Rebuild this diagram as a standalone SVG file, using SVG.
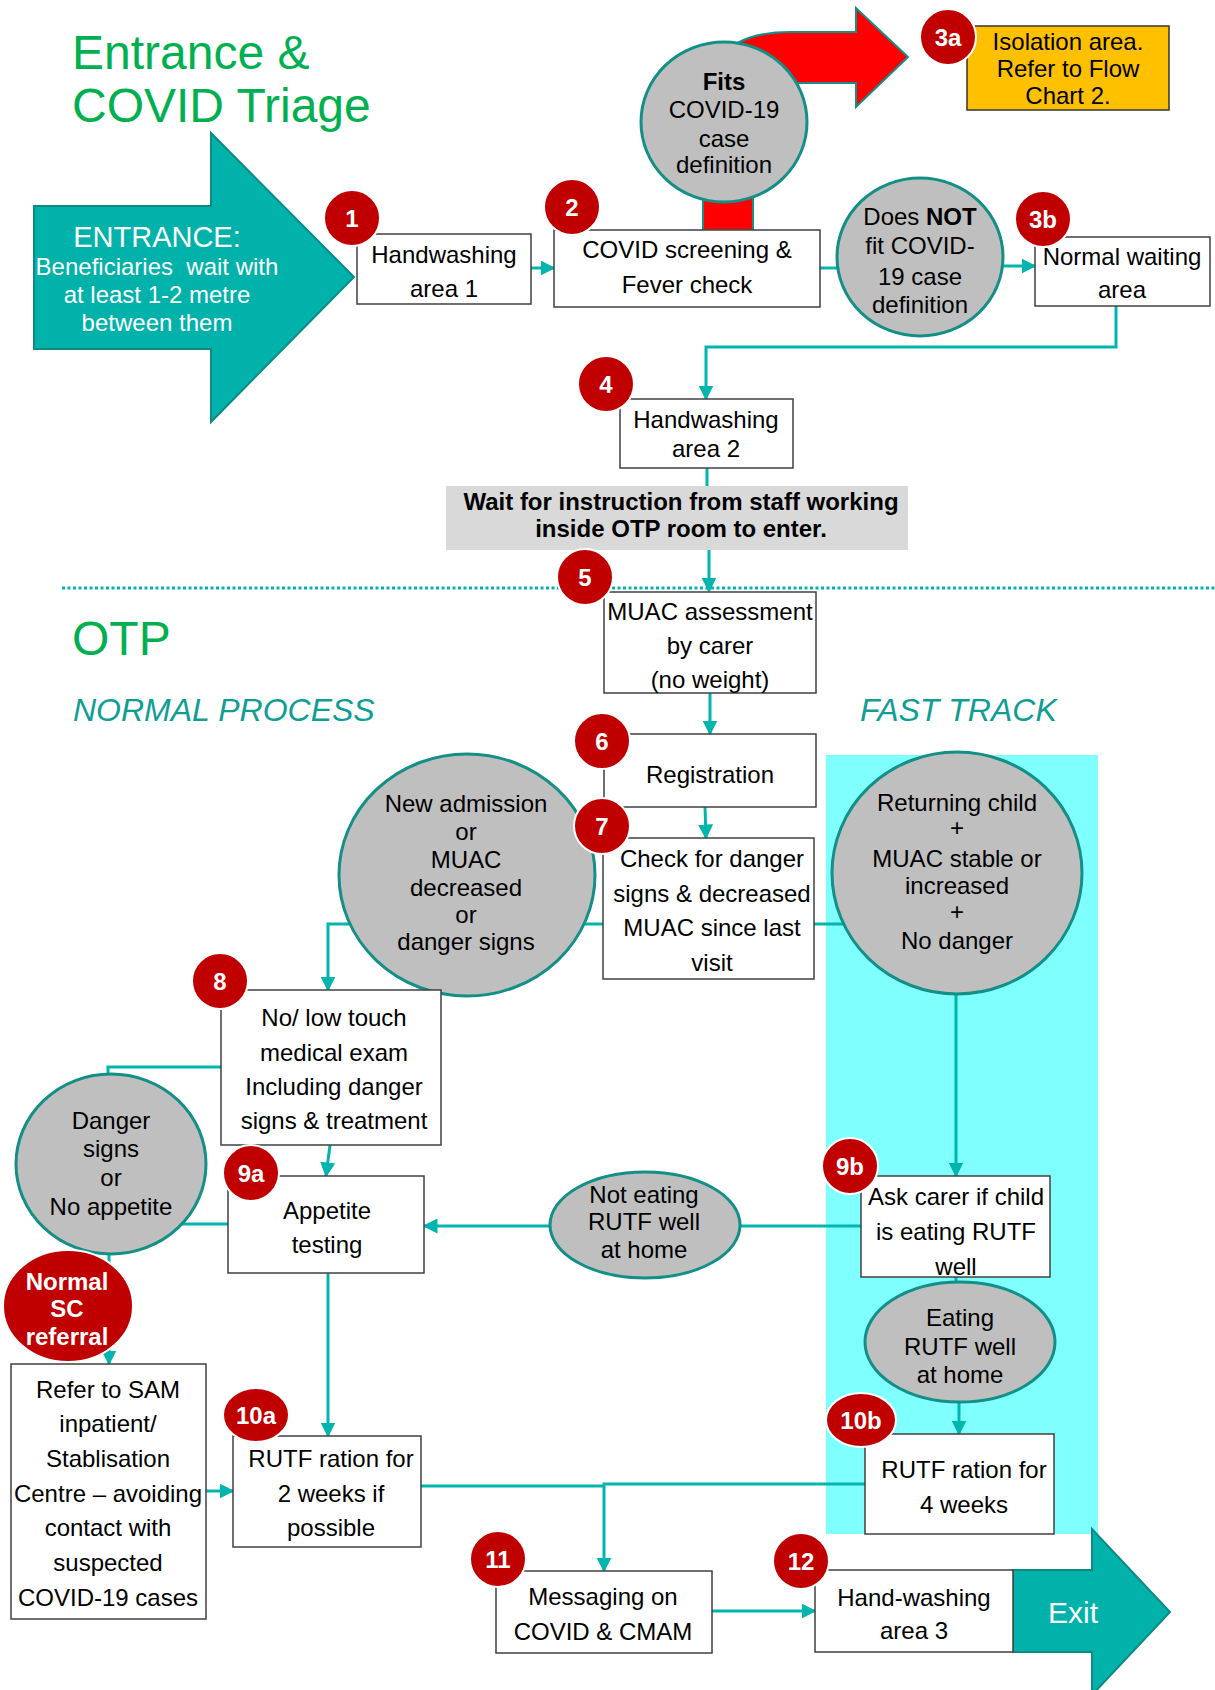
<svg xmlns="http://www.w3.org/2000/svg" width="1215" height="1690" viewBox="0 0 1215 1690">
<style>
text{font-family:"Liberation Sans",Arial,sans-serif;}
.t{font-size:24px;fill:#000;text-anchor:middle;}
.b{font-weight:bold;}
.box{fill:#fff;stroke:#404040;stroke-width:1.5;}
.circ{fill:#BFBFBF;stroke:#138F87;stroke-width:3;}
.con{fill:none;stroke:#00B5AD;stroke-width:3;}
.badge{fill:#C00000;stroke:#fff;stroke-width:2;}
.bt{font-size:24px;font-weight:bold;fill:#fff;text-anchor:middle;}
.title{font-size:48px;fill:#00B050;}
.sub{font-size:32px;font-style:italic;fill:#0F9D94;}
</style>
<defs>
<marker id="ah" viewBox="0 0 10 10" refX="9" refY="5" markerWidth="5" markerHeight="5" orient="auto" markerUnits="strokeWidth">
<path d="M0,0 L10,5 L0,10 Z" fill="#00B5AD"/>
</marker>
</defs>
<rect width="1215" height="1690" fill="#fff"/>
<g id="background">
<rect x="826" y="755" width="272" height="779" fill="#80FFFF"/>
<path d="M62,588 H1215" stroke="#00B5AD" stroke-width="3" stroke-dasharray="3 2.5" fill="none"/>
<text class="title" x="72" y="69">Entrance &amp;</text>
<text class="title" x="72" y="122">COVID Triage</text>
<text class="title" x="72" y="655">OTP</text>
<text class="sub" x="73" y="721">NORMAL PROCESS</text>
<text class="sub" x="860" y="721">FAST TRACK</text>
</g>
<g id="entrance">
<path d="M34,206 H211 V133 L354,277 L211,422 V349 H34 Z" fill="#00B2A9" stroke="#0E8A84" stroke-width="2"/>
<text x="157" y="247" style="font-size:29px;fill:#fff;text-anchor:middle">ENTRANCE:</text>
<text x="157" y="275" xml:space="preserve" style="font-size:24px;fill:#fff;text-anchor:middle">Beneficiaries  wait with</text>
<text x="157" y="303" style="font-size:24px;fill:#fff;text-anchor:middle">at least 1-2 metre</text>
<text x="157" y="331" style="font-size:24px;fill:#fff;text-anchor:middle">between them</text>
</g>
<g id="red-arrow">
<path d="M703,230 V112 Q703,32 790,32 H856 V8 L908,57 L856,107 V83 H800 Q753,83 753,130 V230 Z" fill="#FF0000" stroke="#138F87" stroke-width="2"/>
</g>
<g id="connectors">
<path class="con" d="M531,268 H554" marker-end="url(#ah)"/>
<path class="con" d="M820,268 H850"/>
<path class="con" d="M1003,266 H1035" marker-end="url(#ah)"/>
<path class="con" d="M1116,306 V347 H706 V399" marker-end="url(#ah)"/>
<path class="con" d="M707,468 V486"/>
<path class="con" d="M709,550 V591" marker-end="url(#ah)"/>
<path class="con" d="M710,693 V734" marker-end="url(#ah)"/>
<path class="con" d="M705,807 L706,838" marker-end="url(#ah)"/>
<path class="con" d="M603,924 H328 V990" marker-end="url(#ah)"/>
<path class="con" d="M814,924 H860"/>
<path class="con" d="M956,990 V1176" marker-end="url(#ah)"/>
<path class="con" d="M330,1145 L326,1176" marker-end="url(#ah)"/>
<path class="con" d="M221,1067 H108 V1085"/>
<path class="con" d="M228,1224 H150"/>
<path class="con" d="M109,1250 V1364" marker-end="url(#ah)"/>
<path class="con" d="M206,1491 H233" marker-end="url(#ah)"/>
<path class="con" d="M328,1273 V1436" marker-end="url(#ah)"/>
<path class="con" d="M861,1226 H424" marker-end="url(#ah)"/>
<path class="con" d="M956,1277 V1290"/>
<path class="con" d="M959,1400 V1434" marker-end="url(#ah)"/>
<path class="con" d="M421,1486 H604"/>
<path class="con" d="M865,1484 H604 V1571" marker-end="url(#ah)"/>
<path class="con" d="M712,1611 H815" marker-end="url(#ah)"/>
</g>
<g id="n1">
<rect class="box" x="357" y="234" width="174" height="70"/>
<text class="t" x="444" y="263">Handwashing</text>
<text class="t" x="444" y="297">area 1</text>
</g>
<g id="n2">
<rect class="box" x="554" y="230" width="266" height="77"/>
<text class="t" x="687" y="258">COVID screening &amp;</text>
<text class="t" x="687" y="293">Fever check</text>
</g>
<g id="fits">
<ellipse class="circ" cx="724" cy="122" rx="83" ry="80"/>
<text class="t b" x="724" y="90">Fits</text>
<text class="t" x="724" y="118">COVID-19</text>
<text class="t" x="724" y="147">case</text>
<text class="t" x="724" y="173">definition</text>
</g>
<g id="n3a">
<rect x="967" y="26" width="202" height="84" fill="#FFC000" stroke="#333" stroke-width="1.5"/>
<text class="t" x="1068" y="50">Isolation area.</text>
<text class="t" x="1068" y="77">Refer to Flow</text>
<text class="t" x="1068" y="104">Chart 2.</text>
</g>
<g id="notfit">
<ellipse class="circ" cx="920" cy="257" rx="83" ry="79"/>
<text class="t" x="920" y="225">Does <tspan class="b">NOT</tspan></text>
<text class="t" x="920" y="254">fit COVID-</text>
<text class="t" x="920" y="285">19 case</text>
<text class="t" x="920" y="313">definition</text>
</g>
<g id="n3b">
<rect class="box" x="1035" y="237" width="175" height="69"/>
<text class="t" x="1122" y="265">Normal waiting</text>
<text class="t" x="1122" y="298">area</text>
</g>
<g id="n4">
<rect class="box" x="620" y="399" width="173" height="69"/>
<text class="t" x="706" y="428">Handwashing</text>
<text class="t" x="706" y="457">area 2</text>
</g>
<g id="wait">
<rect x="446" y="486" width="462" height="64" fill="#D9D9D9"/>
<text class="t b" x="681" y="510">Wait for instruction from staff working</text>
<text class="t b" x="681" y="537">inside OTP room to enter.</text>
</g>
<g id="n5">
<rect class="box" x="604" y="592" width="212" height="101"/>
<text class="t" x="710" y="620">MUAC assessment</text>
<text class="t" x="710" y="654">by carer</text>
<text class="t" x="710" y="688">(no weight)</text>
</g>
<g id="n6">
<rect class="box" x="604" y="734" width="212" height="73"/>
<text class="t" x="710" y="783">Registration</text>
</g>
<g id="n7">
<rect class="box" x="603" y="838" width="211" height="141"/>
<text class="t" x="712" y="867">Check for danger</text>
<text class="t" x="712" y="902">signs &amp; decreased</text>
<text class="t" x="712" y="936">MUAC since last</text>
<text class="t" x="712" y="971">visit</text>
</g>
<g id="newadm">
<ellipse class="circ" cx="467" cy="875" rx="128" ry="121"/>
<text class="t" x="466" y="812">New admission</text>
<text class="t" x="466" y="840">or</text>
<text class="t" x="466" y="868">MUAC</text>
<text class="t" x="466" y="896">decreased</text>
<text class="t" x="466" y="923">or</text>
<text class="t" x="466" y="950">danger signs</text>
</g>
<g id="returning">
<ellipse class="circ" cx="957" cy="873" rx="125" ry="121"/>
<text class="t" x="957" y="811">Returning child</text>
<text class="t" x="957" y="836">+</text>
<text class="t" x="957" y="867">MUAC stable or</text>
<text class="t" x="957" y="894">increased</text>
<text class="t" x="957" y="920">+</text>
<text class="t" x="957" y="949">No danger</text>
</g>
<g id="n8">
<rect class="box" x="221" y="990" width="220" height="155"/>
<text class="t" x="334" y="1026">No/ low touch</text>
<text class="t" x="334" y="1061">medical exam</text>
<text class="t" x="334" y="1095">Including danger</text>
<text class="t" x="334" y="1129">signs &amp; treatment</text>
</g>
<g id="danger">
<ellipse class="circ" cx="111" cy="1164" rx="95" ry="90"/>
<text class="t" x="111" y="1129">Danger</text>
<text class="t" x="111" y="1157">signs</text>
<text class="t" x="111" y="1186">or</text>
<text class="t" x="111" y="1215">No appetite</text>
</g>
<g id="n9a">
<rect class="box" x="228" y="1176" width="196" height="97"/>
<text class="t" x="327" y="1219">Appetite</text>
<text class="t" x="327" y="1253">testing</text>
</g>
<g id="noteating">
<ellipse class="circ" cx="645" cy="1225" rx="95" ry="53"/>
<text class="t" x="644" y="1203">Not eating</text>
<text class="t" x="644" y="1230">RUTF well</text>
<text class="t" x="644" y="1258">at home</text>
</g>
<g id="n9b">
<rect class="box" x="861" y="1176" width="189" height="101"/>
<text class="t" x="956" y="1205">Ask carer if child</text>
<text class="t" x="956" y="1240">is eating RUTF</text>
<text class="t" x="956" y="1275">well</text>
</g>
<g id="eating">
<ellipse class="circ" cx="960" cy="1342" rx="95" ry="60"/>
<text class="t" x="960" y="1326">Eating</text>
<text class="t" x="960" y="1355">RUTF well</text>
<text class="t" x="960" y="1383">at home</text>
</g>
<g id="n10b">
<rect class="box" x="865" y="1434" width="189" height="100"/>
<text class="t" x="964" y="1478">RUTF ration for</text>
<text class="t" x="964" y="1513">4 weeks</text>
</g>
<g id="screferral">
<ellipse cx="68" cy="1306" rx="65" ry="56" fill="#C00000" stroke="#fff" stroke-width="2"/>
<text class="bt" x="67" y="1290">Normal</text>
<text class="bt" x="67" y="1317">SC</text>
<text class="bt" x="67" y="1345">referral</text>
</g>
<g id="refer">
<rect class="box" x="11" y="1364" width="195" height="255"/>
<text class="t" x="108" y="1398">Refer to SAM</text>
<text class="t" x="108" y="1432">inpatient/</text>
<text class="t" x="108" y="1467">Stablisation</text>
<text class="t" x="108" y="1502">Centre – avoiding</text>
<text class="t" x="108" y="1536">contact with</text>
<text class="t" x="108" y="1571">suspected</text>
<text class="t" x="108" y="1606">COVID-19 cases</text>
</g>
<g id="n10a">
<rect class="box" x="233" y="1436" width="188" height="111"/>
<text class="t" x="331" y="1467">RUTF ration for</text>
<text class="t" x="331" y="1502">2 weeks if</text>
<text class="t" x="331" y="1536">possible</text>
</g>
<g id="n11">
<rect class="box" x="496" y="1571" width="216" height="82"/>
<text class="t" x="603" y="1605">Messaging on</text>
<text class="t" x="603" y="1640">COVID &amp; CMAM</text>
</g>
<g id="exit">
<path d="M1013,1570 H1092 V1529 L1170,1612 L1092,1695 V1652 H1013 Z" fill="#00B2A9" stroke="#0E8A84" stroke-width="2"/>
<text x="1073" y="1623" style="font-size:30px;fill:#fff;text-anchor:middle">Exit</text>
</g>
<g id="n12">
<rect class="box" x="815" y="1570" width="198" height="82"/>
<text class="t" x="914" y="1606">Hand-washing</text>
<text class="t" x="914" y="1639">area 3</text>
</g>
<g id="badges">
<g id="b1"><circle class="badge" cx="352" cy="218" r="28"/><text class="bt" x="352" y="227">1</text></g>
<g id="b2"><circle class="badge" cx="572" cy="207" r="28"/><text class="bt" x="572" y="216">2</text></g>
<g id="b3a"><circle class="badge" cx="948" cy="37" r="28"/><text class="bt" x="948" y="46">3a</text></g>
<g id="b3b"><circle class="badge" cx="1043" cy="219" r="28"/><text class="bt" x="1043" y="228">3b</text></g>
<g id="b4"><circle class="badge" cx="606" cy="384" r="28"/><text class="bt" x="606" y="393">4</text></g>
<g id="b5"><circle class="badge" cx="585" cy="577" r="28"/><text class="bt" x="585" y="586">5</text></g>
<g id="b6"><circle class="badge" cx="602" cy="741" r="28"/><text class="bt" x="602" y="750">6</text></g>
<g id="b7"><circle class="badge" cx="602" cy="826" r="28"/><text class="bt" x="602" y="835">7</text></g>
<g id="b8"><circle class="badge" cx="220" cy="981" r="28"/><text class="bt" x="220" y="990">8</text></g>
<g id="b9a"><circle class="badge" cx="251" cy="1173" r="28"/><text class="bt" x="251" y="1182">9a</text></g>
<g id="b9b"><circle class="badge" cx="850" cy="1166" r="28"/><text class="bt" x="850" y="1175">9b</text></g>
<g id="b10a"><ellipse class="badge" cx="256" cy="1415" rx="33" ry="27"/><text class="bt" x="256" y="1424">10a</text></g>
<g id="b10b"><ellipse class="badge" cx="861" cy="1420" rx="35" ry="27"/><text class="bt" x="861" y="1429">10b</text></g>
<g id="b11"><circle class="badge" cx="498" cy="1559" r="28"/><text class="bt" x="498" y="1568">11</text></g>
<g id="b12"><circle class="badge" cx="801" cy="1561" r="28"/><text class="bt" x="801" y="1570">12</text></g>
</g>
</svg>
